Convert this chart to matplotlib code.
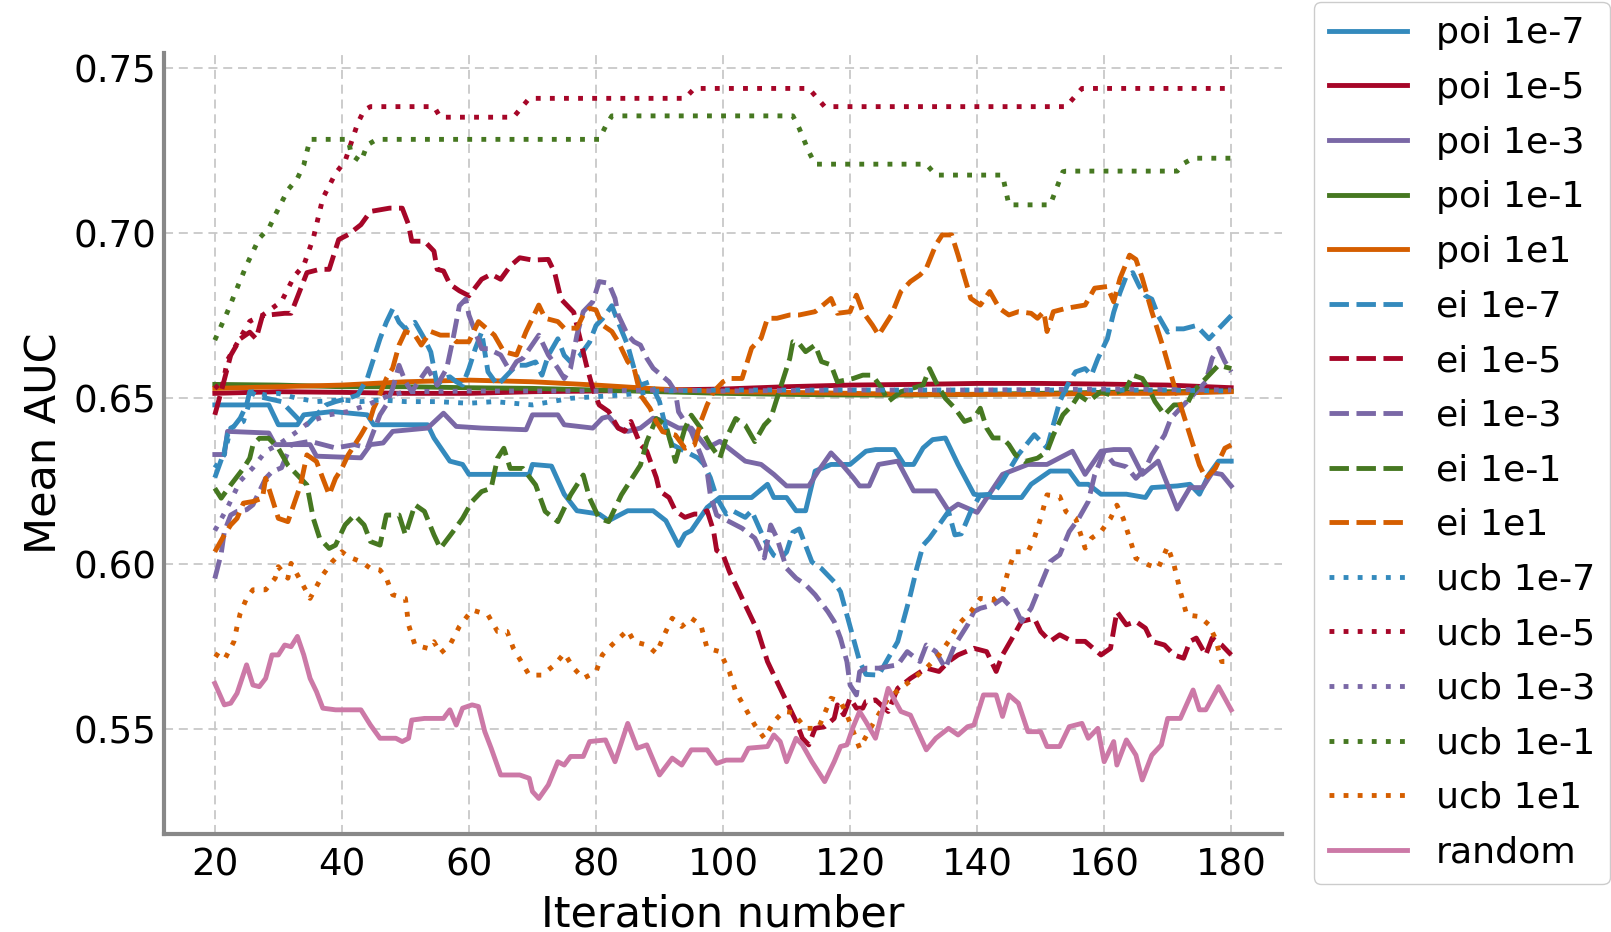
import matplotlib
matplotlib.use("Agg")
import matplotlib.pyplot as plt
from matplotlib.ticker import MultipleLocator

# ---------------- data (iteration, mean AUC) ----------------
poi_1e7 = [(20, 0.648), (28.5, 0.648), (30, 0.642), (33, 0.642), (34, 0.645), (38.5, 0.646), (44, 0.645),
           (45, 0.642), (53.5, 0.642), (54.5, 0.638), (57, 0.631), (59, 0.630), (60, 0.627), (69.5, 0.627),
           (70, 0.630), (73, 0.6295), (75, 0.621), (77, 0.616), (80.5, 0.615), (82, 0.613), (85, 0.616),
           (89, 0.616), (91, 0.613), (93, 0.6055), (94, 0.609), (95, 0.610), (97.5, 0.617), (99.5, 0.620),
           (104.5, 0.620), (107, 0.624), (108, 0.620), (110, 0.620), (111.5, 0.616), (113, 0.616),
           (114.5, 0.628), (117, 0.630), (120, 0.630), (122.5, 0.634), (124, 0.6345), (127, 0.6345),
           (128.5, 0.630), (130, 0.630), (131.5, 0.635), (133, 0.6375), (135, 0.638), (137, 0.630),
           (139.5, 0.621), (142.5, 0.620), (147, 0.620), (148.5, 0.624), (151.5, 0.628), (154.5, 0.628),
           (156, 0.624), (157.5, 0.624), (159.5, 0.621), (163.5, 0.621), (166.5, 0.620), (167.5, 0.623),
           (171.5, 0.6235), (173.5, 0.624), (175, 0.621), (176.5, 0.627), (178, 0.631), (180, 0.631)]

poi_1e5 = [(20, 0.6515), (30, 0.652), (40, 0.6518), (50, 0.6515), (60, 0.6515), (70, 0.652), (80, 0.6522),
           (90, 0.6525), (100, 0.6528), (110, 0.6535), (120, 0.654), (130, 0.6542), (140, 0.6545),
           (150, 0.6545), (160, 0.6543), (170, 0.654), (180, 0.6532)]

poi_1e3 = [(20, 0.633), (21.5, 0.633), (22, 0.640), (28.5, 0.6395), (29.5, 0.636), (35, 0.636), (36, 0.6325),
           (43, 0.632), (44.5, 0.636), (46.5, 0.6365), (48, 0.640), (53.5, 0.641), (56, 0.6455), (58, 0.6415),
           (62, 0.641), (69, 0.6405), (70, 0.645), (74, 0.645), (75, 0.642), (79.5, 0.641), (81, 0.644),
           (82, 0.6445), (83.5, 0.641), (85, 0.640), (87, 0.641), (89, 0.644), (91, 0.643), (93, 0.641),
           (95, 0.641), (97.5, 0.635), (99.5, 0.637), (101.5, 0.634), (103.5, 0.631), (106, 0.630),
           (108, 0.627), (110, 0.6235), (113.5, 0.6235), (115, 0.628), (117, 0.6335), (118.5, 0.6305),
           (120.5, 0.626), (121.5, 0.6235), (123, 0.6235), (124.5, 0.630), (127.5, 0.631), (130, 0.622),
           (133.5, 0.622), (135.5, 0.616), (137, 0.618), (140, 0.6155), (144, 0.627), (146, 0.6285),
           (148, 0.630), (151, 0.630), (153, 0.632), (155, 0.634), (157, 0.627), (159.5, 0.634),
           (161.5, 0.6345), (164, 0.6345), (166, 0.627), (168.5, 0.631), (171.5, 0.6165), (173.5, 0.623),
           (175.5, 0.623), (177, 0.6275), (178.5, 0.627), (180, 0.6235)]

poi_1e_1 = [(20, 0.6542), (30, 0.654), (40, 0.6535), (50, 0.6535), (60, 0.6532), (70, 0.653), (80, 0.6525),
            (90, 0.652), (100, 0.6515), (110, 0.6512), (120, 0.651), (130, 0.651), (140, 0.6512),
            (150, 0.6515), (160, 0.6518), (170, 0.652), (180, 0.6522)]

poi_1e1 = [(20, 0.653), (30, 0.6535), (40, 0.654), (50, 0.655), (60, 0.6555), (70, 0.655), (80, 0.654),
           (90, 0.6528), (100, 0.652), (110, 0.6518), (120, 0.6515), (130, 0.6512), (140, 0.6512),
           (150, 0.6512), (160, 0.6515), (170, 0.6515), (180, 0.652)]

ei_1e7 = [(20, 0.626), (21.5, 0.634), (22, 0.639), (24, 0.644), (25, 0.648), (25.5, 0.652), (27, 0.6505),
          (30.5, 0.649), (32, 0.646), (33.5, 0.643), (34.5, 0.642), (35.5, 0.644), (36.5, 0.646),
          (37.5, 0.648), (39, 0.649), (41, 0.650), (42.5, 0.651), (44, 0.656), (45, 0.662), (46, 0.668),
          (47, 0.673), (48, 0.677), (49, 0.673), (50, 0.671), (51.5, 0.673), (53, 0.668), (54, 0.664),
          (55, 0.654), (56, 0.656), (57, 0.6565), (58, 0.655), (59, 0.654), (60, 0.659), (61, 0.665),
          (62, 0.670), (63, 0.658), (64.5, 0.654), (66, 0.657), (67.5, 0.660), (69, 0.660), (70.5, 0.661),
          (71.5, 0.657), (72.5, 0.663), (74, 0.668), (75, 0.663), (76, 0.661), (77.5, 0.663), (79, 0.667),
          (80, 0.672), (81, 0.674), (82.5, 0.678), (83.5, 0.673), (85, 0.666), (86, 0.659), (87, 0.654),
          (88.5, 0.655), (90, 0.649), (91, 0.641), (92, 0.636), (94, 0.634), (96, 0.632), (97, 0.630),
          (98, 0.626), (99, 0.620), (100.5, 0.615), (101.5, 0.616), (103.5, 0.614), (104.5, 0.616),
          (106, 0.6095), (107, 0.6055), (108, 0.6025), (109, 0.6015), (110, 0.6035), (111, 0.6095),
          (112, 0.6105), (113, 0.6055), (114, 0.6005), (115.5, 0.5985), (117.5, 0.5945), (118.5, 0.5915),
          (119.5, 0.5845), (120.5, 0.5775), (121.5, 0.5705), (122.5, 0.5665), (124.5, 0.5663),
          (126, 0.5714), (127.5, 0.5764), (128.5, 0.5835), (129.5, 0.5906), (130.5, 0.5986),
          (131.5, 0.6056), (132.5, 0.6077), (134, 0.6117), (135.5, 0.6158), (136.5, 0.6087),
          (137.5, 0.609), (139, 0.6158), (140.5, 0.6208), (142.5, 0.621), (144, 0.625), (146.5, 0.633),
          (149, 0.639), (151, 0.635), (152, 0.642), (153, 0.649), (154.5, 0.655), (155.5, 0.658),
          (157, 0.659), (158, 0.657), (159, 0.662), (160.5, 0.668), (161.5, 0.676), (162.5, 0.682),
          (163.5, 0.687), (164.5, 0.688), (165.5, 0.684), (166.5, 0.681), (167.5, 0.680), (168.5, 0.675),
          (170, 0.670), (171, 0.671), (172.5, 0.671), (174.5, 0.672), (175.5, 0.670), (176.5, 0.668),
          (177.5, 0.670), (178.5, 0.672), (180, 0.675)]

ei_1e5 = [(20, 0.645), (21, 0.652), (22.5, 0.663), (24, 0.668), (25.5, 0.670), (26.5, 0.668), (27.5, 0.675),
          (31, 0.6757), (32, 0.6757), (34.5, 0.688), (36.5, 0.689), (38, 0.689), (39.5, 0.698), (41, 0.6995),
          (43, 0.7025), (44.5, 0.7065), (47.5, 0.7075), (49.5, 0.7075), (50.5, 0.7025), (51, 0.6975),
          (53, 0.6975), (54.5, 0.6945), (55, 0.689), (56, 0.6885), (57, 0.6845), (58.5, 0.6825),
          (60, 0.681), (62, 0.686), (63.5, 0.6875), (65, 0.686), (66.5, 0.690), (68, 0.6925), (70, 0.6918),
          (72.5, 0.692), (73.5, 0.688), (74.5, 0.680), (75.5, 0.678), (76.5, 0.676), (77.5, 0.668),
          (78.5, 0.660), (79.5, 0.653), (80.5, 0.648), (82, 0.646), (83.5, 0.641), (84.5, 0.640),
          (85.5, 0.643), (87, 0.636), (88, 0.634), (89.5, 0.626), (90, 0.622), (91.5, 0.620), (92.5, 0.616),
          (94, 0.614), (95.5, 0.615), (96.5, 0.615), (97.5, 0.616), (98.5, 0.610), (99, 0.604),
          (100, 0.6027), (101, 0.5976), (102.5, 0.5916), (103.5, 0.5875), (105.5, 0.5795), (107, 0.5704),
          (108.5, 0.5643), (109.5, 0.5603), (110.5, 0.5563), (111.5, 0.5523), (112.5, 0.5472),
          (113.5, 0.5452), (114.5, 0.5502), (116, 0.5507), (117.5, 0.5532), (118, 0.5573), (119, 0.5543),
          (120, 0.5593), (121, 0.5563), (122, 0.5563), (122.5, 0.5583), (124, 0.5588), (126, 0.5553),
          (127.5, 0.5623), (129.5, 0.5653), (132, 0.5684), (134, 0.5674), (135.5, 0.5704), (137, 0.5724),
          (139.5, 0.5744), (141.5, 0.5734), (143, 0.5674), (144, 0.5724), (145.5, 0.5774), (147, 0.5825),
          (149, 0.5835), (150, 0.5795), (151.5, 0.5765), (153, 0.5785), (155, 0.5765), (157, 0.5765),
          (159.5, 0.5724), (161, 0.5744), (162, 0.5855), (163.5, 0.5815), (165, 0.5825), (166.5, 0.5805),
          (167.5, 0.5765), (169.5, 0.5754), (171, 0.5724), (172.5, 0.5714), (173.5, 0.5765),
          (174.5, 0.5775), (176, 0.5724), (177, 0.5775), (178.5, 0.5754), (180, 0.5724)]

ei_1e3 = [(20, 0.5955), (21, 0.603), (21.5, 0.6097), (22.5, 0.6147), (23.5, 0.6158), (25, 0.6163),
          (26, 0.6178), (27, 0.6218), (28, 0.6258), (29, 0.6278), (30.5, 0.629), (32, 0.636), (35, 0.637),
          (37, 0.636), (39, 0.635), (42, 0.636), (44, 0.635), (46, 0.645), (47, 0.648), (48, 0.653),
          (49, 0.660), (50, 0.655), (51, 0.652), (53.5, 0.659), (55, 0.654), (56.5, 0.659), (57.5, 0.668),
          (58.5, 0.678), (59.5, 0.680), (60, 0.6752), (61, 0.670), (62, 0.665), (63, 0.665), (65, 0.6631),
          (66.5, 0.6581), (67.5, 0.6611), (68.5, 0.6621), (71, 0.6691), (72.5, 0.6631), (74, 0.6591),
          (75, 0.656), (76, 0.6591), (77, 0.6691), (78, 0.6762), (79.5, 0.6792), (80.5, 0.6853),
          (82, 0.6848), (83, 0.6802), (83.5, 0.6752), (85, 0.6691), (86, 0.6671), (87, 0.6661),
          (88, 0.6621), (89, 0.6591), (91.5, 0.655), (92.5, 0.652), (93, 0.6459), (95, 0.6399),
          (96.5, 0.6329), (97.5, 0.6278), (98, 0.6208), (99, 0.6147), (101, 0.6127), (103, 0.6107),
          (105, 0.6077), (106.5, 0.6017), (107.5, 0.6117), (108.5, 0.6077), (110, 0.5986), (111.5, 0.5956),
          (113, 0.5936), (114.5, 0.5906), (116.5, 0.5855), (117.5, 0.5825), (118.5, 0.5774),
          (119.5, 0.5704), (120, 0.5633), (121, 0.5603), (121.5, 0.5673), (122.5, 0.5684), (124.5, 0.5684),
          (127.5, 0.5694), (129, 0.5734), (131, 0.5704), (132, 0.5754), (133.5, 0.5734), (135, 0.5684),
          (136.5, 0.5754), (138.5, 0.5815), (139.5, 0.5855), (140.5, 0.5865), (142.5, 0.5875),
          (144, 0.5895), (145, 0.5875), (146, 0.5865), (147, 0.5825), (148.5, 0.5865), (150, 0.5936),
          (151.5, 0.6006), (153, 0.6027), (154.5, 0.6097), (156, 0.6137), (157.5, 0.6188), (158.5, 0.6268),
          (160, 0.6339), (161.5, 0.6303), (163.5, 0.6293), (165, 0.6258), (166.5, 0.6288), (167.5, 0.6329),
          (169.5, 0.6389), (170.5, 0.6439), (172, 0.647), (173.5, 0.65), (175, 0.653), (176, 0.655),
          (177, 0.6621), (178, 0.6651), (179, 0.6611), (180, 0.658)]

ei_1e_1 = [(20, 0.6228), (21, 0.6198), (22.5, 0.6238), (24.5, 0.6288), (25.5, 0.6319), (26, 0.6359),
           (27, 0.6379), (28.5, 0.6379), (30, 0.6349), (31.5, 0.6298), (33.5, 0.6258), (34.5, 0.6238),
           (35.5, 0.6137), (36.5, 0.6077), (38, 0.6046), (39, 0.6056), (40.5, 0.6117), (42, 0.6147),
           (43.5, 0.6117), (44.5, 0.6067), (46, 0.6056), (47, 0.6147), (49, 0.6147), (50, 0.6087),
           (51.5, 0.6178), (53, 0.6158), (54.5, 0.6087), (55.5, 0.6046), (57.5, 0.6097), (59, 0.6137),
           (60.5, 0.6188), (62, 0.6218), (63.5, 0.6228), (64.5, 0.6319), (65.5, 0.6349), (66.5, 0.6288),
           (68.5, 0.6288), (70.5, 0.6238), (72, 0.6158), (74, 0.6127), (76, 0.6208), (78, 0.6268),
           (79, 0.6198), (80.5, 0.6137), (82, 0.6127), (84, 0.6208), (86, 0.6268), (87, 0.6298),
           (88, 0.6369), (89.5, 0.6439), (91, 0.6419), (92, 0.6349), (92.5, 0.6309), (94, 0.6409),
           (95, 0.6449), (96.5, 0.6409), (98, 0.6359), (99.5, 0.6319), (100.5, 0.6379), (102, 0.6439),
           (103.5, 0.6419), (105, 0.6369), (106.5, 0.6419), (107.5, 0.6439), (108.5, 0.65), (109.5, 0.656),
           (110.5, 0.662), (111, 0.6671), (112, 0.6665), (113, 0.6641), (114.5, 0.6661), (115.5, 0.6611),
           (117, 0.6601), (118, 0.655), (120.5, 0.656), (122, 0.657), (123.5, 0.657), (125, 0.653),
           (126, 0.649), (128, 0.652), (131.5, 0.654), (132.5, 0.659), (133.5, 0.655), (135, 0.65),
           (136.5, 0.647), (138, 0.643), (139.5, 0.644), (140.5, 0.647), (141.5, 0.641), (142.5, 0.638),
           (144, 0.638), (145, 0.636), (146, 0.633), (147.5, 0.6309), (149.5, 0.6319), (151, 0.6339),
           (152, 0.6389), (153.5, 0.645), (155, 0.648), (156, 0.651), (157.5, 0.649), (159.5, 0.652),
           (161, 0.651), (163.5, 0.653), (164.5, 0.657), (166, 0.656), (167, 0.653), (168, 0.649),
           (169.5, 0.645), (171, 0.648), (173, 0.648), (174, 0.652), (176, 0.656), (178, 0.66), (180, 0.659)]

ei_1e1 = [(20, 0.6036), (21.5, 0.6087), (22.5, 0.6117), (23.5, 0.6137), (24.5, 0.6183), (26, 0.6188),
          (27.5, 0.6198), (28, 0.6258), (29, 0.6198), (30, 0.6137), (31.5, 0.6127), (33.5, 0.6238),
          (34.5, 0.6329), (36, 0.6309), (37, 0.6258), (38, 0.6208), (39, 0.6258), (40, 0.6288),
          (41, 0.6329), (43, 0.6389), (44.5, 0.6439), (45, 0.647), (45.5, 0.649), (47, 0.656),
          (48, 0.6591), (49, 0.6661), (50, 0.6702), (51.5, 0.6691), (52.5, 0.6661), (54, 0.6702),
          (55.5, 0.6691), (57, 0.6691), (58, 0.6671), (60, 0.6671), (61.5, 0.6732), (64, 0.6691),
          (65.5, 0.6641), (67.5, 0.6631), (69, 0.6702), (70, 0.6742), (71, 0.6782), (72, 0.6742),
          (74, 0.6732), (75, 0.6712), (77, 0.6712), (78, 0.6752), (79, 0.6772), (80, 0.6767), (81, 0.6722),
          (82.5, 0.6702), (83.5, 0.6671), (85, 0.6611), (86, 0.6591), (87, 0.651), (88.5, 0.647),
          (89.5, 0.6429), (90.5, 0.6399), (92.5, 0.6389), (94, 0.6349), (95.5, 0.6359), (96.5, 0.6429),
          (97.5, 0.648), (98.5, 0.652), (100, 0.655), (101, 0.656), (103, 0.656), (104.5, 0.6652),
          (106, 0.6682), (107, 0.6742), (108.5, 0.6742), (110.5, 0.6752), (112, 0.6752), (114.5, 0.6762),
          (117, 0.6802), (118, 0.6757), (120, 0.6762), (121, 0.6812), (122, 0.6762), (123.5, 0.6722),
          (124.5, 0.6691), (126.5, 0.6752), (128, 0.6823), (129.5, 0.6853), (131, 0.6873), (132, 0.6893),
          (133.5, 0.6964), (134.5, 0.6994), (136, 0.6994), (137, 0.6933), (139, 0.6802), (140.5, 0.6782),
          (142, 0.6823), (143.5, 0.6772), (145, 0.6752), (146.5, 0.6762), (148.5, 0.6757), (149.5, 0.6742),
          (150.5, 0.6762), (151, 0.6702), (152, 0.6762), (154, 0.6772), (157, 0.6782), (158.5, 0.6833),
          (160.5, 0.6838), (161.5, 0.6792), (162.5, 0.6863), (164, 0.6933), (165, 0.692), (166, 0.6863),
          (167.5, 0.6762), (169.5, 0.6641), (171, 0.654), (172, 0.648), (173.5, 0.6389), (175, 0.6298),
          (176, 0.6258), (177.5, 0.6288), (179, 0.6349), (180, 0.6359)]

ucb_1e7 = [(20, 0.629), (21.5, 0.633), (22.5, 0.641), (24.5, 0.643), (26, 0.652), (28, 0.651), (30, 0.6515),
           (33, 0.650), (36, 0.649), (40, 0.6495), (43, 0.649), (46, 0.6495), (50, 0.649), (55, 0.649),
           (60, 0.6485), (64, 0.649), (70, 0.648), (76, 0.650), (80, 0.6505), (84, 0.651), (90, 0.6522),
           (100, 0.6525), (110, 0.6525), (120, 0.6525), (130, 0.6525), (140, 0.6525), (150, 0.6525),
           (160, 0.6525), (170, 0.6525), (180, 0.6522)]

ucb_1e5 = [(20, 0.654), (21, 0.652), (22, 0.6616), (25.5, 0.6733), (27.5, 0.6751), (30.5, 0.6793),
           (32.5, 0.6869), (34, 0.6902), (35.5, 0.6984), (37, 0.7105), (39, 0.718), (40.5, 0.7217),
           (42.5, 0.7332), (43.5, 0.7371), (44.5, 0.7382), (54.5, 0.7382), (55.5, 0.735), (67, 0.735),
           (69.5, 0.7407), (94, 0.7407), (95.5, 0.7437), (113.5, 0.7437), (116, 0.7382), (154, 0.7382),
           (156.5, 0.7437), (180, 0.7437)]

ucb_1e3 = [(20, 0.610), (22, 0.617), (24, 0.625), (26, 0.629), (28, 0.634), (30, 0.636), (33, 0.640),
           (35, 0.643), (38, 0.645), (41, 0.646), (44, 0.648), (47, 0.6505), (50, 0.652), (60, 0.6522),
           (70, 0.6522), (80, 0.6522), (90, 0.6525), (100, 0.6522), (120, 0.6525), (140, 0.6525),
           (160, 0.6528), (180, 0.6525)]

ucb_1e_1 = [(20, 0.6676), (22, 0.6762), (23.5, 0.6833), (25, 0.6903), (27, 0.6984), (28.5, 0.7014),
            (29.5, 0.7054), (31.5, 0.713), (33, 0.7165), (34, 0.7205), (34.5, 0.7246), (35, 0.7283),
            (41, 0.7283), (41.5, 0.7236), (43, 0.7216), (44, 0.7266), (45.5, 0.7283), (80.5, 0.7283),
            (81.5, 0.7322), (82.5, 0.7354), (111, 0.7354), (112, 0.7316), (113.5, 0.7246), (114.5, 0.7208),
            (132, 0.7208), (133.5, 0.7175), (144, 0.7175), (145, 0.7085), (151.5, 0.7085), (152.5, 0.7135),
            (153.5, 0.7185), (154, 0.7187), (171.5, 0.7187), (172.5, 0.721), (174, 0.7226), (180, 0.7226)]

ucb_1e1 = [(20, 0.5728), (21.5, 0.5709), (23, 0.5764), (23.5, 0.581), (24, 0.585), (25, 0.5895), (26, 0.5921),
           (28, 0.5921), (29.5, 0.5956), (30, 0.5991), (31.5, 0.5956), (32, 0.6001), (33, 0.5966),
           (34, 0.5931), (35, 0.5895), (36, 0.5931), (37, 0.5966), (38.5, 0.6006), (40, 0.6036),
           (41, 0.6021), (43, 0.6006), (44.5, 0.5986), (46, 0.5981), (47, 0.5956), (48, 0.5906),
           (50, 0.5895), (50.5, 0.5815), (51.5, 0.5754), (53.5, 0.5744), (54.5, 0.5764), (55.5, 0.5729),
           (57, 0.5754), (58.5, 0.581), (60.5, 0.586), (63, 0.5845), (64.5, 0.5795), (66, 0.5795),
           (67, 0.5744), (69.5, 0.5663), (71.5, 0.5663), (73.5, 0.5694), (75, 0.5729), (76.5, 0.5684),
           (78, 0.5653), (80, 0.5673), (81, 0.5724), (82.5, 0.5754), (85, 0.5799), (86, 0.5764),
           (88, 0.5754), (89.5, 0.5729), (91, 0.5795), (92, 0.5835), (93.5, 0.581), (95, 0.5835),
           (96.5, 0.5815), (97.5, 0.5744), (99.5, 0.5734), (101, 0.5673), (102, 0.5613), (103.5, 0.5563),
           (105, 0.5512), (106.5, 0.5472), (108, 0.5522), (109.5, 0.5553), (111, 0.555), (113, 0.5502),
           (115, 0.5502), (117, 0.5593), (118.5, 0.5583), (119.5, 0.5543), (121.5, 0.5442),
           (123.5, 0.5512), (126, 0.5593), (128, 0.5623), (130, 0.5653), (132, 0.5684), (134, 0.5724),
           (135.5, 0.5765), (137, 0.5815), (139, 0.5855), (140.5, 0.5895), (142.5, 0.589), (144, 0.5915),
           (145, 0.5986), (146, 0.6036), (148, 0.6036), (149, 0.6077), (150, 0.6137), (151, 0.6208),
           (153, 0.6203), (154, 0.6157), (155.5, 0.6137), (157, 0.6047), (158, 0.6077), (159.5, 0.6097),
           (161, 0.6137), (162, 0.6177), (163, 0.6137), (164, 0.6077), (165, 0.6016), (167, 0.5996),
           (168.5, 0.5986), (170, 0.6052), (171, 0.5996), (172, 0.5915), (173, 0.5845), (175, 0.584),
           (176.5, 0.5815), (177.5, 0.5774), (178.5, 0.5704), (180, 0.5704)]

random_auc = [(20, 0.5638), (21.5, 0.5573), (22.5, 0.5578), (23.5, 0.5608), (25, 0.5694), (26, 0.5633),
              (27, 0.5628), (28, 0.5653), (29, 0.5724), (30, 0.5724), (31, 0.5754), (32, 0.5749),
              (33, 0.578), (34, 0.5724), (35, 0.5653), (36, 0.5613), (37, 0.5563), (39, 0.5558),
              (43, 0.5558), (44.5, 0.5512), (46, 0.5472), (48.5, 0.5472), (49.5, 0.5462), (50.5, 0.5472),
              (51, 0.5527), (53, 0.5532), (56, 0.5532), (57, 0.5558), (58, 0.5512), (59, 0.5563),
              (60.5, 0.5573), (61.5, 0.5568), (62.5, 0.5492), (63.5, 0.5442), (65, 0.5361), (68, 0.5361),
              (69.5, 0.5351), (70, 0.5311), (71, 0.529), (72.5, 0.5331), (74, 0.5401), (75, 0.5391),
              (76, 0.5417), (78, 0.5417), (79, 0.5462), (81.5, 0.5467), (83, 0.5401), (85, 0.5517),
              (86.5, 0.5442), (88, 0.5452), (90, 0.5361), (92, 0.5412), (93.5, 0.5391), (95, 0.5437),
              (97.5, 0.5437), (99, 0.5396), (100.5, 0.5406), (103, 0.5406), (104, 0.5442), (107, 0.5447),
              (108, 0.5482), (109, 0.5462), (110, 0.5401), (111.5, 0.5472), (112.5, 0.5452), (114, 0.5401),
              (116, 0.5341), (117.5, 0.5401), (118.5, 0.5447), (119.5, 0.5452), (120.5, 0.5507),
              (121.5, 0.5553), (122.5, 0.5522), (124, 0.5472), (126, 0.5623), (128, 0.5553),
              (129.5, 0.5542), (132, 0.5437), (133.5, 0.5472), (135.5, 0.5502), (137, 0.5482),
              (138.5, 0.5507), (139.5, 0.5512), (141, 0.5603), (143, 0.5603), (144, 0.5538), (145, 0.5603),
              (146.5, 0.5578), (148, 0.5492), (150, 0.5492), (151, 0.5447), (153, 0.5447), (154.5, 0.5507),
              (156.5, 0.5517), (157.5, 0.5472), (159, 0.5502), (160, 0.5401), (161.5, 0.5462),
              (162, 0.5391), (163.5, 0.5467), (165, 0.5421), (166, 0.5346), (167.5, 0.5421), (169, 0.5452),
              (170, 0.5532), (172, 0.5532), (174, 0.5618), (175, 0.5558), (176, 0.5558), (178, 0.5628),
              (180, 0.5558)]

labels = ["poi 1e-7", "poi 1e-5", "poi 1e-3", "poi 1e-1", "poi 1e1",
          "ei 1e-7", "ei 1e-5", "ei 1e-3", "ei 1e-1", "ei 1e1",
          "ucb 1e-7", "ucb 1e-5", "ucb 1e-3", "ucb 1e-1", "ucb 1e1",
          "random"]
series = [poi_1e7, poi_1e5, poi_1e3, poi_1e_1, poi_1e1,
          ei_1e7, ei_1e5, ei_1e3, ei_1e_1, ei_1e1,
          ucb_1e7, ucb_1e5, ucb_1e3, ucb_1e_1, ucb_1e1,
          random_auc]

# ---------------- style ----------------
palette = ["#348ABD", "#A60628", "#7A68A6", "#467821", "#D55E00"]
pink = "#CC79A7"
dash_styles = {"solid": "-", "dashed": (0, (4.0, 1.55)), "dotted": (0, (1.0, 1.9))}
LW = 3.5

fig = plt.figure(figsize=(16.11, 9.32), dpi=100)
ax = fig.add_axes([0.1018, 0.1052, 0.694, 0.838])

for i, (lab, data) in enumerate(zip(labels, series)):
    xs = [p[0] for p in data]
    ys = [p[1] for p in data]
    if lab == "random":
        color, ls = pink, dash_styles["solid"]
    else:
        color = palette[i % 5]
        group = i // 5
        ls = dash_styles[["solid", "dashed", "dotted"][group]]
    ax.plot(xs, ys, color=color, linestyle=ls, linewidth=LW, label=lab)

ax.xaxis.set_major_locator(MultipleLocator(20))
ax.yaxis.set_major_locator(MultipleLocator(0.05))
ax.grid(True, color="#c8c8c8", linestyle=(0, (5.0, 3.2)), linewidth=1.3)
ax.set_axisbelow(True)
for s in ["top", "right"]:
    ax.spines[s].set_visible(False)
for s in ["left", "bottom"]:
    ax.spines[s].set_color("#888888")
    ax.spines[s].set_linewidth(3.0)
ax.tick_params(axis="both", length=0, labelsize=26.7)
ax.tick_params(axis="x", pad=9)
ax.tick_params(axis="y", pad=5.3)
ax.set_xlabel("Iteration number", fontsize=31, labelpad=7)
ax.set_ylabel("Mean AUC", fontsize=31, labelpad=6)

leg = ax.legend(loc="upper left", bbox_to_anchor=(1.0286, 1.0653), borderaxespad=0,
                fontsize=26.2, labelspacing=0.566, handlelength=2.15, handletextpad=0.8,
                frameon=True, fancybox=True, edgecolor="#cccccc", framealpha=1.0)

fig.savefig("out.png", dpi=100)
